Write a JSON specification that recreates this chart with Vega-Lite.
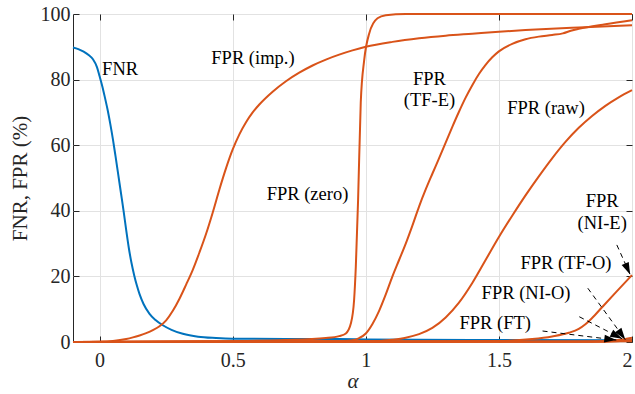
{
  "$schema": "https://vega.github.io/schema/vega-lite/v6.json",
  "width": 559,
  "height": 328,
  "autosize": {"type": "none"},
  "padding": {"left": 73, "top": 14, "right": 3, "bottom": 52},
  "background": "white",
  "config": {
    "view": {"stroke": "#262626", "strokeWidth": 1},
    "axis": {
      "labelFont": "Liberation Serif",
      "titleFont": "Liberation Serif",
      "labelColor": "#262626",
      "titleColor": "#262626",
      "tickColor": "#262626",
      "gridColor": "#e2e2e2",
      "domain": false
    }
  },
  "datasets": {
    "curves": [
      {"s": "FNR", "x": -0.1, "y": 89.8}, {"s": "FNR", "x": -0.08, "y": 89.3}, {"s": "FNR", "x": -0.06, "y": 88.5}, {"s": "FNR", "x": -0.04, "y": 87.4}, {"s": "FNR", "x": -0.025, "y": 86.2}, {"s": "FNR", "x": -0.01, "y": 83.8}, {"s": "FNR", "x": 0, "y": 81}, {"s": "FNR", "x": 0.01, "y": 78}, {"s": "FNR", "x": 0.02, "y": 74.5}, {"s": "FNR", "x": 0.03, "y": 70.8}, {"s": "FNR", "x": 0.04, "y": 66.5}, {"s": "FNR", "x": 0.05, "y": 61.8}, {"s": "FNR", "x": 0.06, "y": 56.5}, {"s": "FNR", "x": 0.07, "y": 51}, {"s": "FNR", "x": 0.08, "y": 45.5}, {"s": "FNR", "x": 0.09, "y": 40}, {"s": "FNR", "x": 0.1, "y": 34}, {"s": "FNR", "x": 0.11, "y": 28.5}, {"s": "FNR", "x": 0.12, "y": 24}, {"s": "FNR", "x": 0.13, "y": 20.3}, {"s": "FNR", "x": 0.14, "y": 17.2}, {"s": "FNR", "x": 0.15, "y": 14.6}, {"s": "FNR", "x": 0.165, "y": 11.6}, {"s": "FNR", "x": 0.1875, "y": 8.6}, {"s": "FNR", "x": 0.21, "y": 6.7}, {"s": "FNR", "x": 0.2375, "y": 5.1}, {"s": "FNR", "x": 0.27, "y": 3.7}, {"s": "FNR", "x": 0.3125, "y": 2.5}, {"s": "FNR", "x": 0.37, "y": 1.6}, {"s": "FNR", "x": 0.4375, "y": 1.2}, {"s": "FNR", "x": 0.5, "y": 1.0}, {"s": "FNR", "x": 0.7, "y": 0.9}, {"s": "FNR", "x": 0.9, "y": 0.9}, {"s": "FNR", "x": 1.0, "y": 0.8}, {"s": "FNR", "x": 1.5, "y": 0.6}, {"s": "FNR", "x": 2.0, "y": 0.5},

      {"s": "FPR (imp.)", "x": -0.1, "y": 0}, {"s": "FPR (imp.)", "x": 0, "y": 0.1}, {"s": "FPR (imp.)", "x": 0.05, "y": 0.3}, {"s": "FPR (imp.)", "x": 0.1, "y": 0.9}, {"s": "FPR (imp.)", "x": 0.125, "y": 1.4}, {"s": "FPR (imp.)", "x": 0.15, "y": 2.0}, {"s": "FPR (imp.)", "x": 0.175, "y": 2.7}, {"s": "FPR (imp.)", "x": 0.2, "y": 3.6}, {"s": "FPR (imp.)", "x": 0.225, "y": 4.8}, {"s": "FPR (imp.)", "x": 0.25, "y": 6.6}, {"s": "FPR (imp.)", "x": 0.275, "y": 9.5}, {"s": "FPR (imp.)", "x": 0.3, "y": 13.2}, {"s": "FPR (imp.)", "x": 0.325, "y": 17.5}, {"s": "FPR (imp.)", "x": 0.35, "y": 22}, {"s": "FPR (imp.)", "x": 0.375, "y": 27.3}, {"s": "FPR (imp.)", "x": 0.4, "y": 33}, {"s": "FPR (imp.)", "x": 0.425, "y": 39.5}, {"s": "FPR (imp.)", "x": 0.45, "y": 46.5}, {"s": "FPR (imp.)", "x": 0.475, "y": 53}, {"s": "FPR (imp.)", "x": 0.5, "y": 58.7}, {"s": "FPR (imp.)", "x": 0.525, "y": 63.3}, {"s": "FPR (imp.)", "x": 0.55, "y": 67}, {"s": "FPR (imp.)", "x": 0.575, "y": 70}, {"s": "FPR (imp.)", "x": 0.6, "y": 72.4}, {"s": "FPR (imp.)", "x": 0.65, "y": 76.3}, {"s": "FPR (imp.)", "x": 0.7, "y": 79.5}, {"s": "FPR (imp.)", "x": 0.75, "y": 82.1}, {"s": "FPR (imp.)", "x": 0.8, "y": 84.3}, {"s": "FPR (imp.)", "x": 0.85, "y": 86.1}, {"s": "FPR (imp.)", "x": 0.9, "y": 87.6}, {"s": "FPR (imp.)", "x": 0.95, "y": 88.9}, {"s": "FPR (imp.)", "x": 1.0, "y": 90}, {"s": "FPR (imp.)", "x": 1.1, "y": 91.5}, {"s": "FPR (imp.)", "x": 1.2, "y": 92.6}, {"s": "FPR (imp.)", "x": 1.3, "y": 93.4}, {"s": "FPR (imp.)", "x": 1.4, "y": 94}, {"s": "FPR (imp.)", "x": 1.5, "y": 94.6}, {"s": "FPR (imp.)", "x": 1.6, "y": 95.1}, {"s": "FPR (imp.)", "x": 1.8, "y": 95.9}, {"s": "FPR (imp.)", "x": 2.0, "y": 96.6},

      {"s": "FPR (zero)", "x": -0.1, "y": 0}, {"s": "FPR (zero)", "x": 0.4, "y": 0.2}, {"s": "FPR (zero)", "x": 0.7, "y": 0.6}, {"s": "FPR (zero)", "x": 0.85, "y": 1.2}, {"s": "FPR (zero)", "x": 0.9, "y": 1.8}, {"s": "FPR (zero)", "x": 0.925, "y": 2.6}, {"s": "FPR (zero)", "x": 0.944, "y": 5.7}, {"s": "FPR (zero)", "x": 0.956, "y": 12.8}, {"s": "FPR (zero)", "x": 0.9625, "y": 23}, {"s": "FPR (zero)", "x": 0.971, "y": 43.3}, {"s": "FPR (zero)", "x": 0.981, "y": 73}, {"s": "FPR (zero)", "x": 0.994, "y": 86}, {"s": "FPR (zero)", "x": 1.0125, "y": 94}, {"s": "FPR (zero)", "x": 1.044, "y": 98.7}, {"s": "FPR (zero)", "x": 1.075, "y": 99.6}, {"s": "FPR (zero)", "x": 1.15, "y": 100}, {"s": "FPR (zero)", "x": 2.0, "y": 100},

      {"s": "FPR (TF-E)", "x": -0.1, "y": 0}, {"s": "FPR (TF-E)", "x": 0.9, "y": 0.2}, {"s": "FPR (TF-E)", "x": 0.95, "y": 0.5}, {"s": "FPR (TF-E)", "x": 0.975, "y": 1.2}, {"s": "FPR (TF-E)", "x": 1.0, "y": 2.6}, {"s": "FPR (TF-E)", "x": 1.025, "y": 5.5}, {"s": "FPR (TF-E)", "x": 1.05, "y": 9.5}, {"s": "FPR (TF-E)", "x": 1.075, "y": 14.5}, {"s": "FPR (TF-E)", "x": 1.1, "y": 20}, {"s": "FPR (TF-E)", "x": 1.125, "y": 25}, {"s": "FPR (TF-E)", "x": 1.15, "y": 30}, {"s": "FPR (TF-E)", "x": 1.175, "y": 35.5}, {"s": "FPR (TF-E)", "x": 1.2, "y": 41.3}, {"s": "FPR (TF-E)", "x": 1.225, "y": 46.5}, {"s": "FPR (TF-E)", "x": 1.25, "y": 51.3}, {"s": "FPR (TF-E)", "x": 1.275, "y": 56}, {"s": "FPR (TF-E)", "x": 1.3, "y": 60.8}, {"s": "FPR (TF-E)", "x": 1.325, "y": 65.6}, {"s": "FPR (TF-E)", "x": 1.35, "y": 70.2}, {"s": "FPR (TF-E)", "x": 1.375, "y": 74.5}, {"s": "FPR (TF-E)", "x": 1.4, "y": 78.3}, {"s": "FPR (TF-E)", "x": 1.425, "y": 81.7}, {"s": "FPR (TF-E)", "x": 1.45, "y": 84.5}, {"s": "FPR (TF-E)", "x": 1.475, "y": 86.8}, {"s": "FPR (TF-E)", "x": 1.5, "y": 88.6}, {"s": "FPR (TF-E)", "x": 1.55, "y": 90.9}, {"s": "FPR (TF-E)", "x": 1.6, "y": 92.3}, {"s": "FPR (TF-E)", "x": 1.65, "y": 93.1}, {"s": "FPR (TF-E)", "x": 1.7, "y": 93.6}, {"s": "FPR (TF-E)", "x": 1.74, "y": 94.1}, {"s": "FPR (TF-E)", "x": 1.77, "y": 94.9}, {"s": "FPR (TF-E)", "x": 1.8, "y": 95.5}, {"s": "FPR (TF-E)", "x": 1.9, "y": 96.9}, {"s": "FPR (TF-E)", "x": 2.0, "y": 98.1},

      {"s": "FPR (raw)", "x": -0.1, "y": 0}, {"s": "FPR (raw)", "x": 1.0, "y": 0.2}, {"s": "FPR (raw)", "x": 1.1, "y": 0.7}, {"s": "FPR (raw)", "x": 1.15, "y": 1.3}, {"s": "FPR (raw)", "x": 1.2, "y": 2.4}, {"s": "FPR (raw)", "x": 1.25, "y": 4.3}, {"s": "FPR (raw)", "x": 1.3, "y": 7.5}, {"s": "FPR (raw)", "x": 1.35, "y": 12}, {"s": "FPR (raw)", "x": 1.4, "y": 18}, {"s": "FPR (raw)", "x": 1.45, "y": 25}, {"s": "FPR (raw)", "x": 1.5, "y": 32}, {"s": "FPR (raw)", "x": 1.55, "y": 38.5}, {"s": "FPR (raw)", "x": 1.6, "y": 44.7}, {"s": "FPR (raw)", "x": 1.65, "y": 50.5}, {"s": "FPR (raw)", "x": 1.7, "y": 56}, {"s": "FPR (raw)", "x": 1.75, "y": 61}, {"s": "FPR (raw)", "x": 1.8, "y": 65.3}, {"s": "FPR (raw)", "x": 1.85, "y": 68.9}, {"s": "FPR (raw)", "x": 1.9, "y": 72}, {"s": "FPR (raw)", "x": 1.95, "y": 74.6}, {"s": "FPR (raw)", "x": 2.0, "y": 76.8},

      {"s": "FPR (TF-O)", "x": -0.1, "y": 0}, {"s": "FPR (TF-O)", "x": 1.5, "y": 0.3}, {"s": "FPR (TF-O)", "x": 1.625, "y": 0.9}, {"s": "FPR (TF-O)", "x": 1.7, "y": 1.7}, {"s": "FPR (TF-O)", "x": 1.7625, "y": 2.8}, {"s": "FPR (TF-O)", "x": 1.8, "y": 4}, {"s": "FPR (TF-O)", "x": 1.825, "y": 5.4}, {"s": "FPR (TF-O)", "x": 1.85, "y": 7.3}, {"s": "FPR (TF-O)", "x": 1.8875, "y": 10.6}, {"s": "FPR (TF-O)", "x": 1.94, "y": 15.2}, {"s": "FPR (TF-O)", "x": 2.0, "y": 20.4},

      {"s": "FPR (NI-O)", "x": -0.1, "y": 0}, {"s": "FPR (NI-O)", "x": 1.85, "y": 0.1}, {"s": "FPR (NI-O)", "x": 1.95, "y": 0.6}, {"s": "FPR (NI-O)", "x": 2.0, "y": 1.3},
      {"s": "FPR (NI-E)", "x": -0.1, "y": 0}, {"s": "FPR (NI-E)", "x": 1.9, "y": 0.1}, {"s": "FPR (NI-E)", "x": 2.0, "y": 0.6},
      {"s": "FPR (FT)", "x": -0.1, "y": 0}, {"s": "FPR (FT)", "x": 2.0, "y": 0.2}
    ],
    "labels": [
      {"t": "FNR", "x": 0.077, "y": 83.2},
      {"t": "FPR (imp.)", "x": 0.576, "y": 86.5},
      {"t": "FPR (zero)", "x": 0.781, "y": 45.1},
      {"t": "FPR", "x": 1.239, "y": 80.2},
      {"t": "(TF-E)", "x": 1.239, "y": 73.7},
      {"t": "FPR (raw)", "x": 1.677, "y": 71.2},
      {"t": "FPR", "x": 1.888, "y": 43.1},
      {"t": "(NI-E)", "x": 1.888, "y": 36.2},
      {"t": "FPR (TF-O)", "x": 1.752, "y": 24.2},
      {"t": "FPR (NI-O)", "x": 1.602, "y": 14.8},
      {"t": "FPR (FT)", "x": 1.486, "y": 5.7}
    ],
    "arrows": [
      {"x": 1.943, "y": 29.6, "x2": 1.993, "y2": 20.6},
      {"x": 1.834, "y": 16.4, "x2": 1.975, "y2": 0.7},
      {"x": 1.802, "y": 7.7, "x2": 1.963, "y2": 1.0},
      {"x": 1.664, "y": 3.35, "x2": 1.941, "y2": 0.6}
    ]
  },
  "resolve": {"axis": {"x": "independent", "y": "independent"}},
  "layer": [
    {
      "data": {"name": "curves"},
      "mark": {"type": "line", "strokeWidth": 2, "interpolate": "monotone", "clip": false},
      "encoding": {
        "x": {"field": "x", "type": "quantitative",
          "scale": {"domain": [-0.1, 2], "nice": false, "zero": false},
          "axis": {"orient": "bottom", "values": [0, 0.5, 1, 1.5, 2], "format": "~g", "grid": true, "tickSize": -6, "labelPadding": 14, "labelFontSize": 20, "title": "α", "titleFontSize": 21, "titleFontStyle": "italic", "titleFontWeight": "normal", "titlePadding": 0}},
        "y": {"field": "y", "type": "quantitative",
          "scale": {"domain": [0, 100], "nice": false},
          "axis": {"orient": "left", "values": [0, 20, 40, 60, 80, 100], "grid": true, "tickSize": -6, "labelPadding": 9, "labelFontSize": 20, "title": "FNR, FPR (%)", "titleFontSize": 21, "titleFontWeight": "normal", "titlePadding": 10}},
        "color": {"field": "s", "type": "nominal", "legend": null,
          "scale": {"domain": ["FNR", "FPR (imp.)", "FPR (zero)", "FPR (TF-E)", "FPR (raw)", "FPR (TF-O)", "FPR (NI-O)", "FPR (NI-E)", "FPR (FT)"],
            "range": ["#0072BD", "#D95319", "#D95319", "#D95319", "#D95319", "#D95319", "#D95319", "#D95319", "#D95319"]}},
        "order": {"field": "x", "type": "quantitative"}
      }
    },
    {
      "data": {"name": "arrows"},
      "mark": {"type": "rule", "color": "black", "strokeWidth": 1, "strokeDash": [5, 4]},
      "encoding": {
        "x": {"field": "x", "type": "quantitative", "scale": {"domain": [-0.1, 2], "nice": false, "zero": false}, "axis": {"orient": "top", "values": [0, 0.5, 1, 1.5, 2], "labels": false, "grid": false, "tickSize": -6, "title": null}},
        "y": {"field": "y", "type": "quantitative", "scale": {"domain": [0, 100], "nice": false}, "axis": {"orient": "right", "values": [0, 20, 40, 60, 80, 100], "labels": false, "grid": false, "tickSize": -6, "title": null}},
        "x2": {"field": "x2"},
        "y2": {"field": "y2"}
      }
    },
    {
      "data": {"name": "arrows"},
      "transform": [{"calculate": "atan2((datum.x2 - datum.x) * 266.3, (datum.y2 - datum.y) * 3.28) * 180 / PI", "as": "ang"}],
      "mark": {"type": "point", "filled": true, "color": "black", "opacity": 1, "shape": "M0,0L-0.55,1.7L0.55,1.7Z", "size": 200},
      "encoding": {
        "x": {"field": "x2", "type": "quantitative", "axis": null},
        "y": {"field": "y2", "type": "quantitative", "axis": null},
        "angle": {"field": "ang", "type": "quantitative", "scale": null}
      }
    },
    {
      "data": {"name": "labels"},
      "mark": {"type": "text", "font": "Liberation Serif", "fontSize": 18.5, "color": "black", "align": "center", "baseline": "middle"},
      "encoding": {
        "x": {"field": "x", "type": "quantitative", "axis": null},
        "y": {"field": "y", "type": "quantitative", "axis": null},
        "text": {"field": "t"}
      }
    }
  ]
}
